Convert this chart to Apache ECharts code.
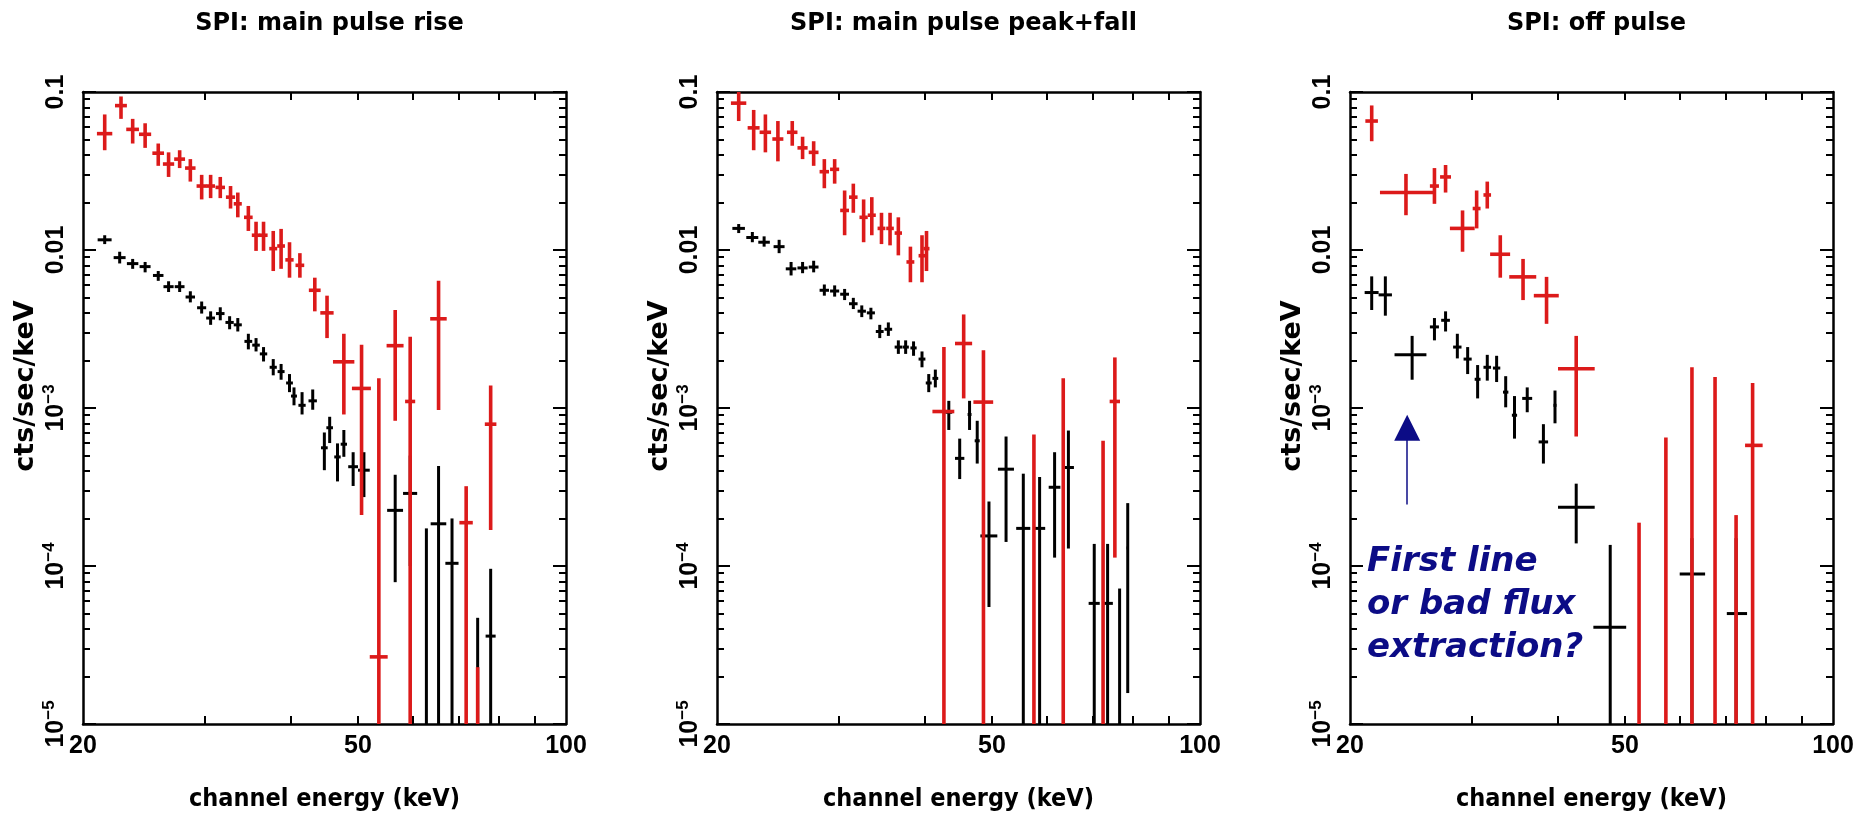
<!DOCTYPE html>
<html><head><meta charset="utf-8">
<script src="https://cdn.jsdelivr.net/npm/echarts@6/dist/echarts.min.js"></script>
<style>html,body{margin:0;padding:0;background:#fff}#c{width:1873px;height:819px}</style>
</head><body><div id="c"></div>
<script>
// ---------- text / ticks ----------
const TITLES = ['SPI: main pulse rise', 'SPI: main pulse peak+fall', 'SPI: off pulse'];
const X_NAME = 'channel energy (keV)';
const Y_NAME = 'cts/sec/keV';
const X_LABELS = [20, 50, 100];
const X_TICKS = [30, 40, 50, 60, 70, 80, 90];
const Y_DECADES = [1e-5, 1e-4, 1e-3, 0.01, 0.1];
const Y_MINOR_MULT = [2, 3, 4, 5, 6, 7, 8, 9];
const NOTE_LINES = ['First line', 'or bad flux', 'extraction?'];
const ARROW_X = 24.2, ARROW_FROM = 2.45e-4, ARROW_TO = 7.5e-4;

// ---------- data: [energy, flux, energyLow, energyHigh, fluxLow, fluxHigh] ----------
const RISE_BLACK = [
  [21.5,0.0116,21.0,22.0,0.0109,0.0124],[22.6,0.00895,22.15,23.05,0.00822,0.00975],
  [23.6,0.0082,23.15,24.05,0.0076,0.00878],[24.6,0.00785,24.15,25.05,0.00722,0.0084],
  [25.7,0.0069,25.25,26.15,0.00638,0.00736],[26.6,0.00586,26.15,27.05,0.00542,0.00634],
  [27.6,0.00586,27.15,28.05,0.00542,0.00634],[28.6,0.00504,28.15,29.05,0.00466,0.00548],
  [29.7,0.00431,29.25,30.15,0.00396,0.00472],[30.6,0.00371,30.15,31.05,0.00336,0.00409],
  [31.6,0.00396,31.15,32.05,0.00359,0.00434],[32.6,0.00348,32.15,33.05,0.00315,0.00381],
  [33.5,0.00336,33.05,33.95,0.00305,0.00371],[34.7,0.00264,34.25,35.15,0.00235,0.00295],
  [35.6,0.0025,35.15,36.05,0.00228,0.00277],[36.5,0.0022,36.05,36.95,0.00197,0.00243],
  [37.7,0.00181,37.25,38.15,0.00161,0.00204],[38.7,0.0017,38.25,39.15,0.00151,0.0019],
  [39.8,0.00144,39.35,40.25,0.00126,0.00164],[40.4,0.00119,40.0,40.8,0.00104,0.00135],
  [41.5,0.00104,41.0,42.0,0.00091,0.00126],[43.0,0.00111,42.4,43.6,0.000975,0.00131],
  [44.7,0.00056,44.2,45.2,0.000404,0.0007],[45.5,0.00075,45.0,46.0,0.0006,0.00088],
  [46.7,0.00049,46.2,47.2,0.000343,0.000597],[47.7,0.00059,47.2,48.2,0.000491,0.000726],
  [49.2,0.000425,48.4,50.0,0.000321,0.000525],[51.0,0.000404,50.0,52.0,0.000273,0.000525],
  [56.6,0.000225,55.1,58.1,0.000079,0.000378],[59.5,0.000288,58.1,60.9,0.0001,0.0005],
  [62.8,3e-6,62.8,62.8,1e-7,0.000173],[65.4,0.000185,63.7,67.1,1e-7,0.00043],
  [68.4,0.000104,66.9,69.9,1e-7,0.0002],[74.5,3e-6,74.5,74.5,1e-7,4.7e-5],
  [77.8,3.6e-5,76.5,79.1,1e-7,9.6e-5]
];
const RISE_RED = [
  [21.5,0.0545,20.95,22.05,0.0428,0.0721],[22.7,0.082,22.25,23.15,0.0676,0.0937],
  [23.6,0.058,23.1,24.1,0.0472,0.0676],[24.6,0.054,24.1,25.1,0.0443,0.0634],
  [25.7,0.041,25.2,26.2,0.0341,0.0472],[26.6,0.035,26.1,27.1,0.029,0.0415],
  [27.6,0.0376,27.1,28.1,0.033,0.0428],[28.6,0.033,28.1,29.1,0.0271,0.0376],
  [29.7,0.0254,29.2,30.2,0.0209,0.0299],[30.6,0.0254,30.15,31.05,0.0213,0.0299],
  [31.6,0.0249,31.1,32.1,0.0213,0.029],[32.7,0.0216,32.2,33.2,0.0183,0.0254],
  [33.5,0.0196,33.05,33.95,0.0161,0.0231],[34.7,0.0161,34.2,35.2,0.0132,0.019],
  [35.6,0.0124,35.1,36.1,0.00987,0.0151],[36.5,0.0124,36.0,37.0,0.00987,0.0151],
  [37.7,0.0102,37.2,38.2,0.00736,0.0132],[38.7,0.0106,38.2,39.2,0.0076,0.0136],
  [39.8,0.00866,39.25,40.35,0.00668,0.0112],[41.2,0.008,40.6,41.8,0.00668,0.00955],
  [43.3,0.00556,42.45,44.15,0.00409,0.00668],[45.1,0.004,44.1,46.1,0.00277,0.00514],
  [47.7,0.00196,46.0,49.4,0.00091,0.00295],[50.6,0.00133,49.0,52.2,0.00021,0.00251],
  [53.6,2.66e-5,52.0,55.2,1e-7,0.00154],[56.6,0.00248,55.0,58.2,0.00083,0.00417],
  [59.5,0.0011,58.5,60.5,1e-7,0.00282],[65.4,0.00367,63.6,67.2,0.00097,0.00638],
  [71.7,0.000188,70.1,73.3,1e-7,0.00032],[74.5,3e-6,74.5,74.5,1e-7,2.29e-5],
  [77.8,0.00079,76.3,79.3,0.000169,0.00139]
];
const PEAK_BLACK = [
  [21.5,0.0137,21.05,21.95,0.0128,0.0146],[22.5,0.012,22.05,22.95,0.0112,0.013],
  [23.4,0.0112,22.95,23.85,0.0105,0.0122],[24.6,0.0105,24.15,25.05,0.00955,0.0116],
  [25.6,0.0076,25.15,26.05,0.0069,0.0084],[26.6,0.0077,26.15,27.05,0.00713,0.0084],
  [27.6,0.0078,27.15,28.05,0.00722,0.00855],[28.6,0.00556,28.15,29.05,0.00514,0.00605],
  [29.6,0.0055,29.15,30.05,0.00507,0.00597],[30.6,0.00525,30.15,31.05,0.00482,0.00567],
  [31.5,0.00457,31.05,31.95,0.00423,0.00498],[32.4,0.0041,31.95,32.85,0.00376,0.00446],
  [33.4,0.004,32.95,33.85,0.00364,0.00431],[34.4,0.00305,33.95,34.85,0.00277,0.00336],
  [35.4,0.00315,34.95,35.85,0.00286,0.00348],[36.6,0.00243,36.15,37.05,0.0022,0.00268],
  [37.5,0.00243,37.1,37.9,0.0022,0.00268],[38.5,0.0024,38.1,38.9,0.00214,0.00264],
  [39.6,0.00204,39.15,40.05,0.00181,0.00228],[40.5,0.00144,40.1,40.9,0.00126,0.00164],
  [41.4,0.00154,41.0,41.8,0.00135,0.00175],[43.3,0.00094,42.8,43.8,0.000726,0.00111],
  [44.9,0.00048,44.2,45.6,0.000355,0.00064],[46.4,0.00091,46.1,46.7,0.000726,0.00111],
  [47.6,0.00062,47.2,48.0,0.000445,0.00083],[49.5,0.000155,48.1,50.9,5.5e-5,0.000256],
  [52.4,0.00041,51.0,53.8,0.000142,0.00066],[55.5,0.000173,54.2,56.8,1e-7,0.000384],
  [58.6,0.000173,57.5,59.7,1e-7,0.000366],[61.6,0.000315,60.4,62.8,0.000113,0.000525],
  [64.5,0.00042,63.3,65.7,0.000129,0.00072],[70.3,5.8e-5,69.0,71.6,1e-7,0.000138],
  [73.5,5.8e-5,72.2,74.8,1e-7,0.000138],[76.5,3e-6,76.5,76.5,1e-7,7.2e-5],
  [78.6,0.00013,78.3,78.9,1.57e-5,0.00025]
];
const PEAK_RED = [
  [21.5,0.085,20.95,22.05,0.0655,0.1],[22.6,0.0593,22.15,23.05,0.0428,0.077],
  [23.5,0.0556,23.05,23.95,0.0415,0.0721],[24.5,0.0504,24.05,24.95,0.0364,0.0655],
  [25.7,0.0556,25.25,26.15,0.0457,0.0655],[26.6,0.0443,26.15,27.05,0.0376,0.0521],
  [27.6,0.0415,27.15,28.05,0.0341,0.0488],[28.6,0.0313,28.15,29.05,0.0246,0.0376],
  [29.6,0.0324,29.15,30.05,0.0263,0.0376],[30.6,0.0178,30.15,31.05,0.0124,0.0238],
  [31.5,0.0216,31.05,31.95,0.0172,0.0263],[32.6,0.0161,32.15,33.05,0.0112,0.0209],
  [33.5,0.0166,33.05,33.95,0.0124,0.0216],[34.6,0.0137,34.15,35.05,0.0109,0.0172],
  [35.6,0.0137,35.15,36.05,0.0107,0.0172],[36.6,0.0128,36.15,37.05,0.00925,0.0161],
  [38.1,0.0084,37.6,38.6,0.00625,0.0105],[39.6,0.0092,39.15,40.05,0.00625,0.0124],
  [40.2,0.0102,39.8,40.6,0.00736,0.0132],[42.6,0.00095,41.0,44.1,1e-7,0.00243],
  [45.5,0.00256,44.2,46.8,0.00115,0.00391],[48.6,0.00109,47.0,50.2,1e-7,0.00232],
  [57.5,3e-6,57.5,57.5,1e-7,0.00068],[63.4,3e-6,63.4,63.4,1e-7,0.00154],
  [72.4,3e-6,72.4,72.4,1e-7,0.00062],[75.3,0.0011,74.0,76.6,0.000113,0.00209]
];
const OFF_BLACK = [
  [21.5,0.00538,21.0,22.0,0.00417,0.00681],[22.5,0.0052,22.0,23.0,0.00384,0.00681],
  [24.6,0.00217,23.2,25.8,0.00151,0.00286],[26.5,0.00326,26.1,26.9,0.00268,0.00371],
  [27.5,0.00359,27.1,27.9,0.00305,0.00409],[28.6,0.00243,28.2,29.0,0.00206,0.00295],
  [29.6,0.00204,29.2,30.0,0.00164,0.00243],[30.6,0.00152,30.3,30.9,0.00115,0.00187],
  [31.6,0.00181,31.2,32.0,0.00149,0.00217],[32.6,0.00179,32.2,33.0,0.00146,0.00214],
  [33.6,0.00126,33.3,33.9,0.00101,0.00159],[34.6,0.0009,34.3,34.9,0.00064,0.00119],
  [36.1,0.00115,35.5,36.7,0.00094,0.00135],[38.1,0.00061,37.5,38.7,0.000445,0.00079],
  [39.6,0.00104,39.4,39.8,0.0008,0.00129],[42.5,0.000235,40.0,45.2,0.000139,0.000332],
  [47.6,4.1e-5,45.0,50.2,1e-7,0.000136],[62.5,8.9e-5,60.0,65.3,1e-7,0.00015],
  [72.4,5.0e-5,70.2,75.1,1e-7,0.00015]
];
const OFF_RED = [
  [21.5,0.0655,21.05,21.95,0.0488,0.0822],[24.1,0.0231,22.1,26.5,0.0166,0.0303],
  [26.5,0.0254,26.1,26.9,0.0196,0.033],[27.5,0.029,27.0,28.0,0.0231,0.0345],
  [29.1,0.0137,27.9,30.3,0.00975,0.0178],[30.5,0.0183,30.1,30.9,0.0137,0.0238],
  [31.6,0.0223,31.2,32.0,0.0183,0.0271],[33.0,0.0094,31.9,34.1,0.00668,0.0124],
  [35.6,0.00676,34.0,37.2,0.00482,0.00878],[38.5,0.00514,36.9,40.1,0.00341,0.00676],
  [42.5,0.00177,40.0,45.2,0.00066,0.00286],[52.4,3e-6,52.4,52.4,1e-7,0.000188],
  [57.3,3e-6,57.3,57.3,1e-7,0.00065],[62.5,3e-6,62.5,62.5,1e-7,0.00181],
  [67.5,3e-6,67.5,67.5,1e-7,0.00157],[72.4,3e-6,72.4,72.4,1e-7,0.00021],
  [76.5,0.00058,74.6,79.1,1e-7,0.00144]
];

const PANELS = [
  {title: TITLES[0], black: RISE_BLACK, red: RISE_RED},
  {title: TITLES[1], black: PEAK_BLACK, red: PEAK_RED},
  {title: TITLES[2], black: OFF_BLACK, red: OFF_RED, note: true}
];

// ---------- layout & style ----------
const GRID_LEFTS = [83, 717, 1350];
const GRID_TOP = 92, GRID_W = 483, GRID_H = 632;
const RED = '#dc1a1a', NAVY = '#0c0c86';
const LABEL_FONT = '"Liberation Sans", Arial, sans-serif';
const NAME_FONT = '"DejaVu Sans", "Liberation Sans", sans-serif';
const TITLE_FONT = '"DejaVu Sans", sans-serif';
const XNAME_FONT = '"DejaVu Sans Condensed", "Liberation Sans Narrow", "DejaVu Sans", sans-serif';
const Y_MINORS = [];
Y_DECADES.slice(0, -1).forEach(d => Y_MINOR_MULT.forEach(m => Y_MINORS.push(m * d)));

function yLabel(v) {
  const n = Math.round(Math.log10(v));
  if (n === -1) return '{b|0.1}';
  if (n === -2) return '{b|0.01}';
  return '{b|10}{s|\u2212' + (-n) + '}';
}

function makeRender(color, lw) {
  return function (params, api) {
    const cs = params.coordSys;
    const y0 = cs.y, y1 = cs.y + cs.height;
    const e = api.value(0), f = api.value(1);
    const c = api.coord([e, f]);
    const pHi = api.coord([e, api.value(5)]);
    const pLo = api.coord([e, api.value(4)]);
    const pL = api.coord([api.value(2), f]);
    const pR = api.coord([api.value(3), f]);
    const cl = v => Math.min(y1, Math.max(y0, v));
    const st = {stroke: color, lineWidth: lw};
    const children = [];
    const ya = cl(pHi[1]), yb = cl(pLo[1]);
    if (yb - ya > 0.5) children.push({type: 'line', shape: {x1: c[0], y1: ya, x2: c[0], y2: yb}, style: st});
    if (c[1] >= y0 && c[1] <= y1 && pR[0] - pL[0] > 0.5)
      children.push({type: 'line', shape: {x1: pL[0], y1: c[1], x2: pR[0], y2: c[1]}, style: st});
    return {type: 'group', children};
  };
}

const grid = [], xAxis = [], yAxis = [], series = [], title = [];
PANELS.forEach((p, i) => {
  grid.push({left: GRID_LEFTS[i], top: GRID_TOP, width: GRID_W, height: GRID_H});
  title.push({text: p.title, left: GRID_LEFTS[i] + GRID_W / 2, top: 7, textAlign: 'center',
    textStyle: {fontFamily: TITLE_FONT, fontWeight: 'bold', fontSize: 24, color: '#000'}});
  const xBase = xAxis.length;
  ['bottom', 'top'].forEach((pos, k) => {
    xAxis.push({
      type: 'log', logBase: 10, min: 20, max: 100, gridIndex: i, position: pos,
      name: k === 0 ? X_NAME : '', nameLocation: 'middle', nameGap: 63,
      nameTextStyle: {fontFamily: XNAME_FONT, fontWeight: 'bold', fontSize: 25, color: '#000'},
      axisLine: {show: true, onZero: false, lineStyle: {color: '#000', width: 2.5}},
      axisTick: {show: true, inside: true, length: 8, customValues: X_TICKS, lineStyle: {color: '#000', width: 2}},
      axisLabel: {show: k === 0, customValues: X_LABELS, margin: 10, formatter: v => String(Math.round(v)),
        fontFamily: LABEL_FONT, fontWeight: 'bold', fontSize: 25, color: '#000'},
      splitLine: {show: false}, minorTick: {show: false}
    });
  });
  const yBase = yAxis.length;
  // order: major left, major right, minor left, minor right
  [['left', true, true], ['right', true, false], ['left', false, false], ['right', false, false]].forEach(([pos, major, lab]) => {
    yAxis.push({
      type: 'log', logBase: 10, min: 1e-5, max: 0.1, gridIndex: i, position: pos,
      name: lab ? Y_NAME : '', nameLocation: 'middle', nameGap: 44,
      nameTextStyle: {fontFamily: NAME_FONT, fontWeight: 'bold', fontSize: 27, color: '#000', padding: [0, 0, 0, 44]},
      axisLine: {show: major, onZero: false, lineStyle: {color: '#000', width: 2.5}},
      axisTick: {show: true, inside: true, length: major ? 13 : 7, customValues: major ? Y_DECADES : Y_MINORS,
        lineStyle: {color: '#000', width: 2}},
      axisLabel: {show: lab, customValues: Y_DECADES, rotate: 90, margin: 12, formatter: yLabel,
        rich: {
          b: {fontFamily: LABEL_FONT, fontWeight: 'bold', fontSize: 25, lineHeight: 30, color: '#000'},
          s: {fontFamily: LABEL_FONT, fontWeight: 'bold', fontSize: 17, lineHeight: 14, verticalAlign: 'top', color: '#000'}
        }},
      splitLine: {show: false}, minorTick: {show: false}
    });
  });
  const blackSeries = {
    type: 'custom', xAxisIndex: xBase, yAxisIndex: yBase, data: p.black,
    renderItem: makeRender('#000', 3), silent: true, z: 2
  };
  if (p.note) {
    blackSeries.markLine = {
      silent: true, symbol: ['none', 'triangle'], symbolSize: 26, animation: false,
      lineStyle: {color: NAVY, width: 1.5, type: 'solid'}, label: {show: false},
      data: [[{coord: [ARROW_X, ARROW_FROM]}, {coord: [ARROW_X, ARROW_TO]}]]
    };
  }
  series.push(blackSeries);
  series.push({
    type: 'custom', xAxisIndex: xBase, yAxisIndex: yBase, data: p.red,
    renderItem: makeRender(RED, 3.6), silent: true, z: 3
  });
});

const chart = echarts.init(document.getElementById('c'), null, {renderer: 'canvas'});
chart.setOption({
  backgroundColor: '#fff',
  animation: false,
  title, grid, xAxis, yAxis, series,
  graphic: [{
    type: 'text', left: 1367, top: 541,
    style: {text: NOTE_LINES.join('\n'), fill: NAVY, lineHeight: 43,
      font: 'italic bold 34px "DejaVu Sans", sans-serif'}
  }]
});
</script></body></html>
